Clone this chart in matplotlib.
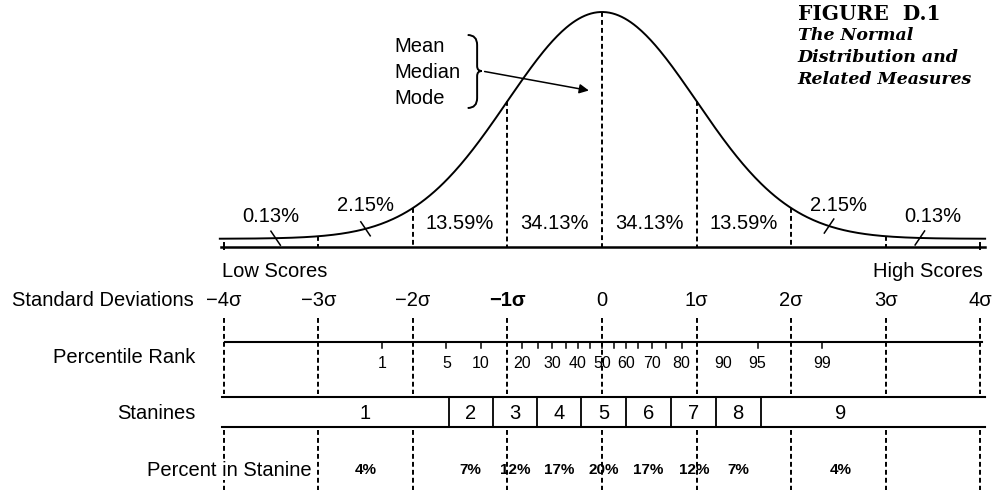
import matplotlib
matplotlib.use("Agg")
import matplotlib.pyplot as plt
import numpy as np
from matplotlib.path import Path
from matplotlib.patches import PathPatch
from statistics import NormalDist

plt.rcParams["font.family"] = ["Liberation Sans", "DejaVu Sans"]

# values
sigma_ticks = [-4, -3, -2, -1, 0, 1, 2, 3, 4]
sigma_labels = ["\u22124\u03c3", "\u22123\u03c3", "\u22122\u03c3", "\u22121\u03c3", "0",
                "1\u03c3", "2\u03c3", "3\u03c3", "4\u03c3"]
band_centers = [-3.5, -2.5, -1.5, -0.5, 0.5, 1.5, 2.5, 3.5]
band_percents = ["0.13%", "2.15%", "13.59%", "34.13%", "34.13%", "13.59%", "2.15%", "0.13%"]
band_label_rows = [216, 205, 223, 223, 223, 223, 205, 216]
leader_centers = [-3.45, -2.5, 2.4, 3.36]
percentile_labels = [1, 5, 10, 20, 30, 40, 50, 60, 70, 80, 90, 95, 99]
percentile_ticks = [1, 5, 10, 20, 25, 30, 35, 40, 45, 50, 55, 60, 65, 70, 75, 80, 95, 99]
stanine_edges = [-1.62, -1.15, -0.69, -0.22, 0.25, 0.73, 1.2, 1.68]
stanine_centers = [-2.5, -1.39, -0.92, -0.45, 0.02, 0.49, 0.97, 1.44, 2.52]
stanines = [1, 2, 3, 4, 5, 6, 7, 8, 9]
stanine_percents = ["4%", "7%", "12%", "17%", "20%", "17%", "12%", "7%", "4%"]
title_lines = ["The Normal", "Distribution and", "Related Measures"]

# layout (x in sigma units, y in image rows from the top)
BASE = 247
PEAK_H = 235
TAIL = 0.035
SD_ROW = 300
PR_LINE = 342
PR_ROW = 363
ST_TOP, ST_BOT = 397, 427
PS_ROW = 470
DASH = (2.5, 1.6)
FS = 14.5


def curve(z):
    return BASE - PEAK_H * (TAIL + (1 - TAIL) * np.exp(-np.asarray(z) ** 2 / 2))


fig = plt.figure(figsize=(9.94, 4.90), dpi=100)
ax = fig.add_axes([0, 0, 1, 1])
ax.set_xlim(-602 / 94.6, (994 - 602) / 94.6)
ax.set_ylim(490, 0)
ax.axis("off")

# the curve and its baseline
zz = np.linspace(-4.04, 4.05, 500)
ax.plot(zz, curve(zz), color="black", lw=1.4)
ax.plot([-4.03, 4.05], [BASE, BASE], color="black", lw=1.8)
for s in [-4, 4]:
    ax.plot([s, s], [BASE - 4, BASE + 2], color="black", lw=1.4)
for s in sigma_ticks[1:-1]:
    ax.plot([s, s], [curve(s), BASE], color="black", lw=1.4, dashes=DASH)

for x, t, y in zip(band_centers, band_percents, band_label_rows):
    ax.text(x, y, t, ha="center", va="center", fontsize=FS)
for c in leader_centers:
    sgn = 1 if c < 0 else -1
    yc = curve(c)
    ax.plot([c - 0.05, c + 0.05], [yc - 7 * sgn, yc + 7 * sgn], color="black", lw=1.1)

# mean / median / mode
for i, t in enumerate(["Mean", "Median", "Mode"]):
    ax.text(-2.19, 46 + 26 * i, t, ha="left", va="center", fontsize=FS)
bx, bw = -1.37, 0.05
brace = Path([(bx - bw, 35), (bx + bw, 35), (bx + bw, 45), (bx + bw, 66), (bx + bw, 71), (bx + 2 * bw, 71),
              (bx + bw, 71), (bx + bw, 76), (bx + bw, 98), (bx + bw, 108), (bx - bw, 108)],
             [Path.MOVETO, Path.CURVE3, Path.CURVE3, Path.LINETO, Path.CURVE3, Path.CURVE3,
              Path.CURVE3, Path.CURVE3, Path.LINETO, Path.CURVE3, Path.CURVE3])
ax.add_patch(PathPatch(brace, fill=False, lw=1.4, color="black"))
ax.annotate("", xy=(-0.11, 91), xytext=(bx + 2 * bw, 71),
            arrowprops=dict(arrowstyle="-|>", color="black", lw=1.1, mutation_scale=14))

# title block
ax.text(2.07, 14, "FIGURE  D.1", ha="left", va="center", fontsize=14.5,
        family="DejaVu Serif", fontweight="bold")
for i, t in enumerate(title_lines):
    ax.text(2.07, 35 + 22 * i, t, ha="left", va="center", fontsize=12.5,
            family="DejaVu Serif", fontweight="bold", style="italic")

ax.text(-4.02, 271, "Low Scores", ha="left", va="center", fontsize=FS)
ax.text(4.03, 271, "High Scores", ha="right", va="center", fontsize=FS)

# standard deviations row
ax.text(-4.32, SD_ROW, "Standard Deviations", ha="right", va="center", fontsize=FS)
for s, t in zip(sigma_ticks, sigma_labels):
    ax.text(s, SD_ROW, t, ha="center", va="center", fontsize=FS,
            fontweight="bold" if s == -1 else "normal")
    ax.plot([s, s], [318, ST_TOP - 3], color="black", lw=1.4, dashes=DASH)
    ax.plot([s, s], [ST_BOT + 3, 490], color="black", lw=1.4, dashes=DASH)

# percentile rank row
nd = NormalDist()
ax.text(-4.30, 357, "Percentile Rank", ha="right", va="center", fontsize=FS)
ax.plot([-3.98, 4.02], [PR_LINE, PR_LINE], color="black", lw=1.5)
for p in percentile_ticks:
    z = nd.inv_cdf(p / 100)
    ax.plot([z, z], [PR_LINE, PR_LINE + 6], color="black", lw=1.1)
for p in percentile_labels:
    ax.text(nd.inv_cdf(p / 100), PR_ROW, str(p), ha="center", va="center", fontsize=11.5)

# stanines row
ax.text(-4.30, 413, "Stanines", ha="right", va="center", fontsize=FS)
ax.plot([-4.02, 4.05], [ST_TOP, ST_TOP], color="black", lw=1.5)
ax.plot([-4.02, 4.05], [ST_BOT, ST_BOT], color="black", lw=1.5)
for e in stanine_edges:
    ax.plot([e, e], [ST_TOP, ST_BOT], color="black", lw=1.3)
for c, n in zip(stanine_centers, stanines):
    ax.text(c, 413, str(n), ha="center", va="center", fontsize=14.5)

# percent in stanine row
ax.text(-3.07, PS_ROW, "Percent in Stanine", ha="right", va="center", fontsize=FS,
        bbox=dict(facecolor="white", edgecolor="none", pad=0.5), zorder=5)
for c, t in zip(stanine_centers, stanine_percents):
    ax.text(c, PS_ROW, t, ha="center", va="center", fontsize=11, fontweight="bold")

fig.savefig("out.png", dpi=100)
